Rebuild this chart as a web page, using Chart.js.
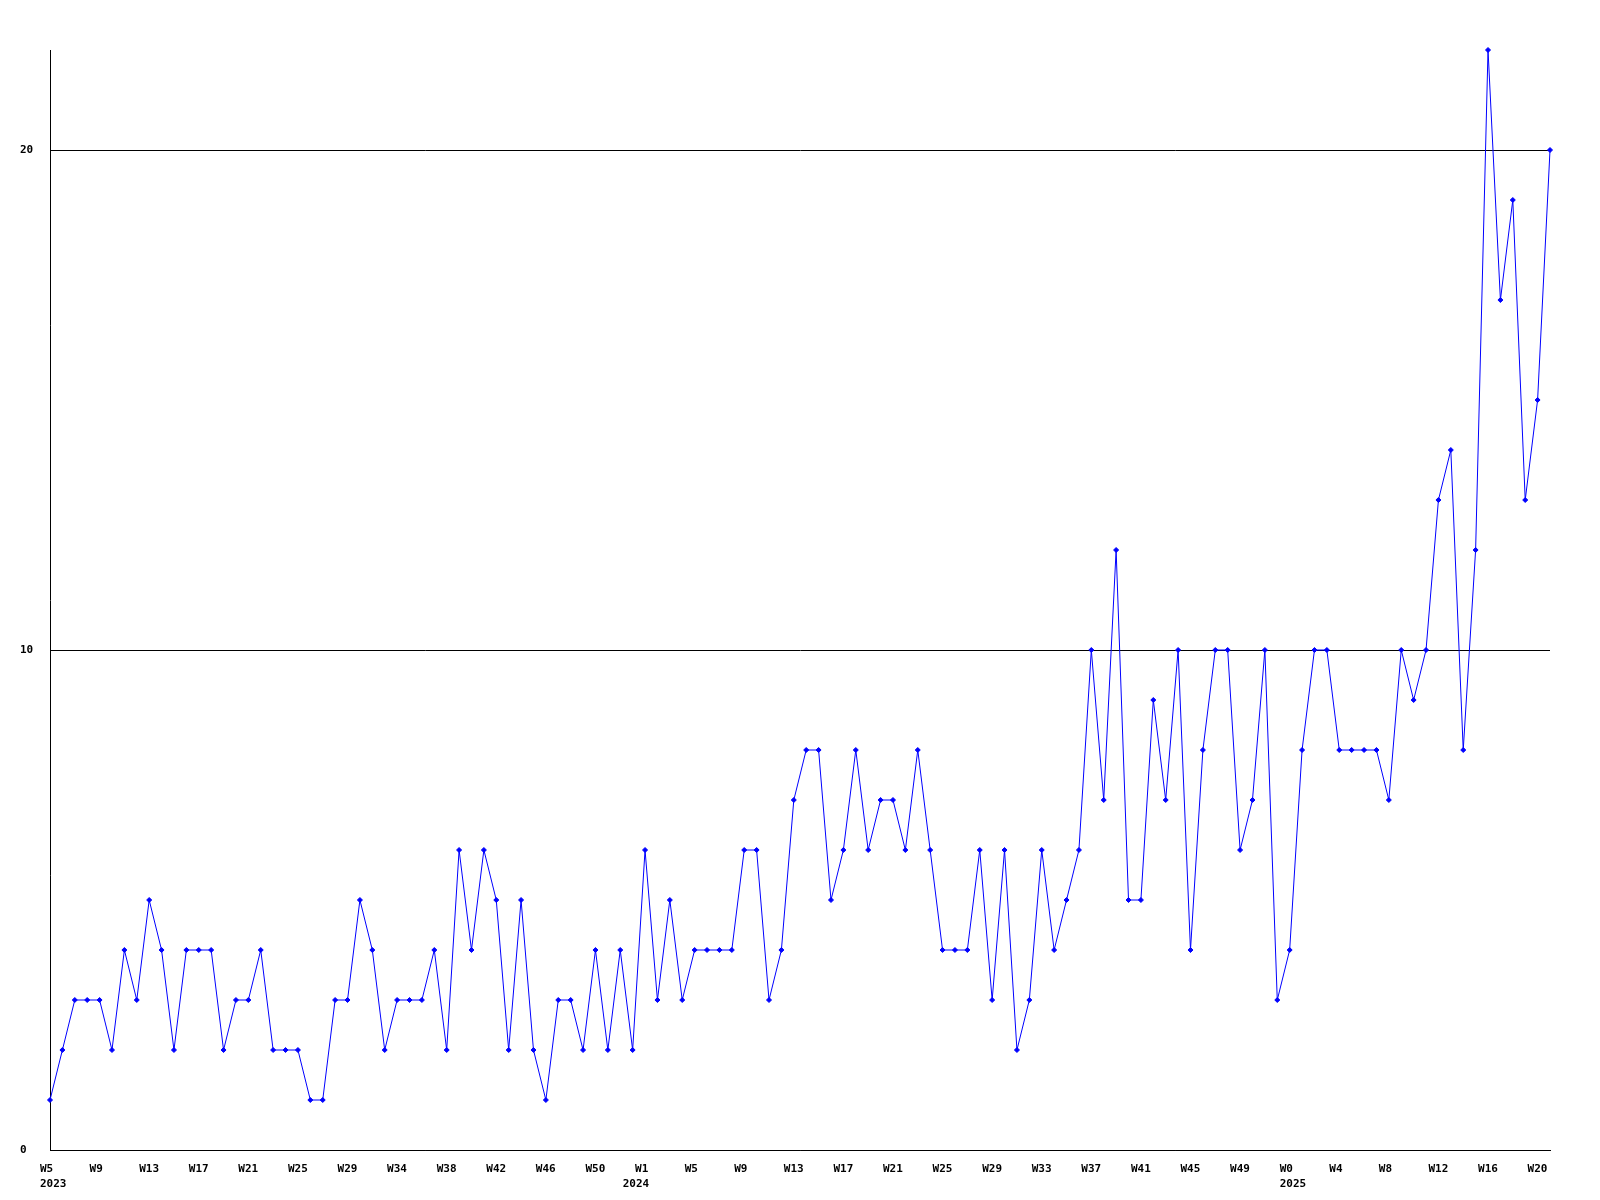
<!DOCTYPE html>
<html>
<head>
<meta charset="utf-8">
<script src="https://cdn.jsdelivr.net/npm/chart.js@4/dist/chart.umd.min.js"></script>
<style>
  body { margin: 0; background: #fff; }
</style>
</head>
<body>
<canvas id="semanas" width="1600" height="1200"></canvas>
<script>
// week numbers as printed under the axis (%W style)
const semanas = [
  5,6,7,8,9,10,11,12,13,14,15,16,17,18,19,20,21,22,23,24,25,26,27,28,29,
  31,32,33,34,35,36,37,38,39,40,41,42,43,44,45,46,47,48,49,50,51,52,
  0,1,2,3,4,5,6,7,8,9,10,11,12,13,14,15,16,17,18,19,20,21,22,23,24,25,26,
  27,28,29,30,31,32,33,34,35,36,37,38,39,40,41,42,43,44,45,46,47,48,49,50,51,52,
  0,1,2,3,4,5,6,7,8,9,10,11,12,13,14,15,16,17,18,19,20,21
];
// index of the first week of each year, and the year printed under it
const inicio_anos = [0, 47, 100];
const nomes_anos = ['2023', '2024', '2025'];

const valores = [
  1,2,3,3,3,2,4,3,5,4,
  2,4,4,4,2,3,3,4,2,2,
  2,1,1,3,3,5,4,2,3,3,
  3,4,2,6,4,6,5,2,5,2,
  1,3,3,2,4,2,4,2,6,3,
  5,3,4,4,4,4,6,6,3,4,
  7,8,8,5,6,8,6,7,7,6,
  8,6,4,4,4,6,3,6,2,3,
  6,4,5,6,10,7,12,5,5,9,
  7,10,4,8,10,10,6,7,10,3,
  4,8,10,10,8,8,8,8,7,10,
  9,10,13,14,8,12,22,17,19,13,
  15,20
];

const fonte = { family: '"DejaVu Sans Mono", monospace', size: 11, weight: 'bold', lineHeight: '15px' };

function renderiza_semanas(rotulos, dados){
    const ctx = document.getElementById('semanas').getContext('2d');
    new Chart(ctx, {
        type: 'line',
        data: {
            labels: rotulos,
            datasets: [{
                data: dados,
                borderColor: 'rgb(0,0,255)',
                backgroundColor: 'rgb(0,0,255)',
                borderWidth: 1,
                tension: 0,
                pointStyle: 'rectRot',
                pointRadius: 2.5,
                pointBorderWidth: 1,
                clip: false,
            }]
        },
        options: {
            responsive: false,
            animation: false,
            events: [],
            layout: { padding: { top: 50, right: 50, left: 20, bottom: 0 } },
            plugins: { legend: { display: false }, tooltip: { enabled: false } },
            scales: {
                x: {
                    offset: false,
                    grid: { display: false },
                    border: { display: true, color: '#000', width: 1 },
                    afterFit: function (scale) { scale.height = 50; },
                    ticks: {
                        autoSkip: false,
                        maxRotation: 0,
                        minRotation: 0,
                        align: 'start',
                        labelOffset: -10,
                        padding: 4,
                        color: '#000',
                        font: fonte,
                        callback: function (valor, i) {
                            const w = (i % 4 === 0) ? 'W' + semanas[i] : '';
                            const k = inicio_anos.indexOf(i);
                            return k >= 0 ? [w, nomes_anos[k]] : w;
                        }
                    }
                },
                y: {
                    min: 0,
                    max: 22,
                    grid: { color: '#000', lineWidth: 1, drawTicks: false },
                    border: { display: true, color: '#000', width: 1 },
                    afterFit: function (scale) { scale.width = 30; },
                    ticks: {
                        stepSize: 10,
                        includeBounds: false,
                        crossAlign: 'far',
                        color: '#000',
                        font: fonte,
                    }
                }
            }
        }
    });
}

window.onload = function () {
    const rotulos = semanas.map(function (s) { return 'W' + s; });
    renderiza_semanas(rotulos, valores);
};
</script>
</body>
</html>
